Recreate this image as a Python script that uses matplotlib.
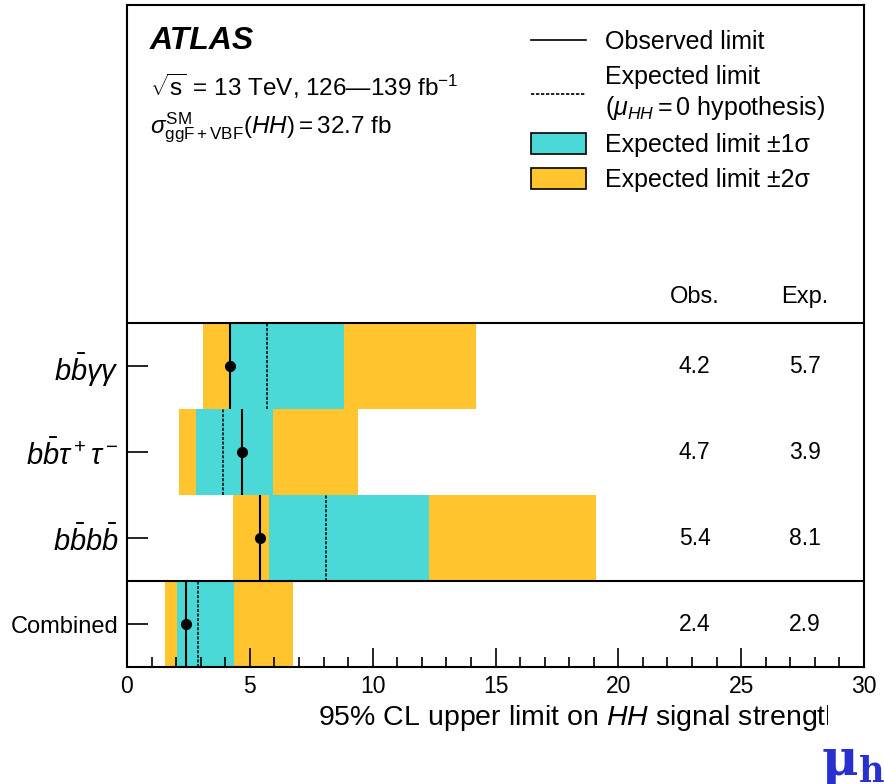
import numpy as np
import matplotlib
matplotlib.use('Agg')
import matplotlib.pyplot as plt
from matplotlib.lines import Line2D
from matplotlib.patches import Patch
from matplotlib.transforms import Bbox

plt.rcParams['font.family'] = ['Liberation Sans', 'DejaVu Sans']
plt.rcParams['mathtext.fontset'] = 'custom'
plt.rcParams['mathtext.rm'] = 'Liberation Sans'
plt.rcParams['mathtext.it'] = 'Liberation Sans:italic'
plt.rcParams['mathtext.bf'] = 'Liberation Sans:bold'

# channels from bottom to top
channels = ['Combined', r'$b\bar{b}b\bar{b}$', r'$b\bar{b}\tau^+\tau^-$', r'$b\bar{b}\gamma\gamma$']
obs = [2.4, 5.4, 4.7, 4.2]
exp = [2.9, 8.1, 3.9, 5.7]
lo1 = [2.05, 5.8, 2.8, 4.25]
hi1 = [4.35, 12.3, 5.95, 8.85]
lo2 = [1.55, 4.3, 2.1, 3.1]
hi2 = [6.75, 19.1, 9.4, 14.2]

cyan = '#4ad9d6'
orange = '#ffc42e'

fig = plt.figure(figsize=(8.84, 7.84), dpi=100)
ax = fig.add_axes([127/884, 117/784, 737/884, 662/784])

ypos = np.arange(len(channels)) + 0.5
ax.barh(ypos, np.array(hi2) - np.array(lo2), left=lo2, height=1, color=orange, lw=0)
ax.barh(ypos, np.array(hi1) - np.array(lo1), left=lo1, height=1, color=cyan, lw=0)
ax.vlines(exp, ypos - 0.5, ypos + 0.5, colors='black', linestyles=(0, (2, 1)), lw=1.1)
ax.vlines(obs, ypos - 0.5, ypos + 0.5, colors='black', lw=1.5)
ax.plot(obs, ypos, 'o', color='black', ms=7)

ax.axhline(1, color='black', lw=1.5)
ax.axhline(4, color='black', lw=1.5)

for y, o, e in zip(ypos, obs, exp):
    ax.text(23.1, y, f'{o:.1f}', ha='center', va='center', fontsize=16.5)
    ax.text(27.6, y, f'{e:.1f}', ha='center', va='center', fontsize=16.5)
ax.text(23.1, 4.3, 'Obs.', ha='center', va='center', fontsize=17)
ax.text(27.6, 4.3, 'Exp.', ha='center', va='center', fontsize=17)

ax.set_xlim(0, 30)
ax.set_ylim(0, 7.7)
ax.set_yticks(ypos)
ax.set_yticklabels(channels)
for lab in ax.get_yticklabels():
    lab.set_fontsize(17 if lab.get_text() == 'Combined' else 21)
ax.set_xticks(np.arange(0, 31, 5))
ax.set_xticks(np.arange(0, 31, 1), minor=True)
ax.tick_params(axis='x', which='major', direction='in', length=14, width=1.2, labelsize=16.5, pad=6)
ax.tick_params(axis='x', which='minor', direction='in', length=7, width=1.2)
ax.tick_params(axis='y', which='major', direction='in', length=15, width=1.2, pad=6)
for s in ax.spines.values():
    s.set_linewidth(1.5)

ax.text(0.031, 0.933, 'ATLAS', transform=ax.transAxes, fontsize=23,
        fontweight='bold', fontstyle='italic', va='baseline')
ax.text(0.031, 0.862, r'$\sqrt{\mathrm{s}}\,=\,$13 TeV, 126—139 fb$^{-1}$',
        transform=ax.transAxes, fontsize=17.5, va='baseline')
ax.text(0.031, 0.806, r'$\sigma^{\mathrm{SM}}_{\mathrm{ggF+VBF}}(HH)=32.7$ fb',
        transform=ax.transAxes, fontsize=17.5, va='baseline')

handles = [
    Line2D([], [], color='black', lw=1.2),
    Line2D([], [], color='black', lw=1.2, ls=(0, (2, 1))),
    Patch(facecolor=cyan, edgecolor='black', lw=1.2),
    Patch(facecolor=orange, edgecolor='black', lw=1.2),
]
labels = ['Observed limit', 'Expected limit\n' + r'($\mu_{HH}=0$ hypothesis)',
          'Expected limit ±1σ', 'Expected limit ±2σ']
ax.legend(handles, labels, loc='upper right', bbox_to_anchor=(0.947, 0.962),
          frameon=False, fontsize=18, handlelength=2.2, handleheight=0.9,
          handletextpad=0.75, labelspacing=0.45, borderaxespad=0, borderpad=0)

xl = fig.text(318/884, 1 - 718/784, r'95% CL upper limit on $HH$ signal strength',
              fontsize=20.5, ha='left', va='center')
xl.set_clip_box(Bbox.from_extents(0, 0, 828, 784))
xl.set_clip_on(True)

fig.text(821/884, 1 - 788/784, r'$\mathbf{\mu}_{\mathbf{hh}}$', fontsize=36,
         color='#2a30d0', math_fontfamily='dejavuserif', ha='left', va='bottom')

plt.savefig('out.png', dpi=100)
